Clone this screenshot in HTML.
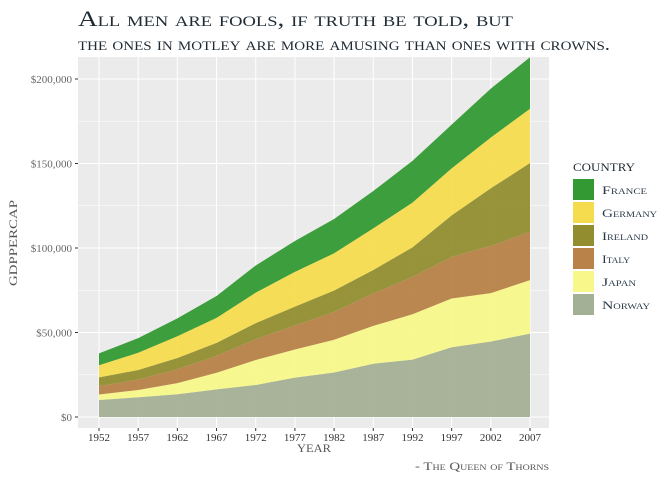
<!DOCTYPE html>
<html><head><meta charset="utf-8"><style>
body{margin:0;background:#fff;}
svg text{font-family:"Liberation Serif",serif;font-variant:small-caps;}
</style></head><body>
<svg id="chart" width="672" height="480" xmlns="http://www.w3.org/2000/svg">
<text x="78" y="26" font-size="22" fill="#1f2a33" textLength="435" lengthAdjust="spacingAndGlyphs">All men are fools, if truth be told, but</text>
<text x="78" y="50" font-size="18" fill="#1f2a33" textLength="532" lengthAdjust="spacingAndGlyphs">the ones in motley are more amusing than ones with crowns.</text>
<rect x="78" y="57" width="471" height="371" fill="#ebebeb"/>
<g id="grid"></g><g id="areas"></g><g id="axes"></g><g id="legend"></g>
<text x="17" y="243" font-size="12" fill="#555" transform="rotate(-90 17 243)" text-anchor="middle" textLength="86" lengthAdjust="spacingAndGlyphs">GDPPERCAP</text>
<text x="314" y="452" font-size="12" fill="#555" text-anchor="middle" textLength="34" lengthAdjust="spacingAndGlyphs">YEAR</text>
<text x="549" y="470" font-size="12" fill="#555" text-anchor="end" textLength="134" lengthAdjust="spacingAndGlyphs">- The Queen of Thorns</text>
</svg>
<script>
const years=[1952,1957,1962,1967,1972,1977,1982,1987,1992,1997,2002,2007];
const countries=["Norway","Japan","Italy","Ireland","Germany","France"];
const norway=[10095,11654,13450,16362,18965,23311,26299,31541,33966,41283,44684,49357];
const japan=[3217,4318,6577,9848,14779,16610,19384,22376,26825,28817,28605,31656];
const italy=[4931,6249,8244,10022,12269,14256,16538,19207,22014,24675,27968,28570];
const ireland=[5210,5599,6631,7656,9531,11151,12618,13873,17559,24522,34077,40676];
const germany=[7144,10188,12903,14746,18016,20513,22032,24639,26505,27789,30036,32170];
const france=[7030,8663,10560,13000,16107,18293,20294,22066,24704,25890,28926,30470];
const series=[norway,japan,italy,ireland,germany,france];
const colors=["#a4b096","#f8f88a","#b88248","#928e30","#f5dc4f","#339a33"];
const yTicks=[0,50000,100000,150000,200000];
const yTickLabels=["$0","$50,000","$100,000","$150,000","$200,000"];
const NS="http://www.w3.org/2000/svg";
const X=v=>99+(v-1952)*(530-99)/55;
const Y=v=>417-v*(417-79)/200000;
function mk(t,a,p){const e=document.createElementNS(NS,t);for(const k in a)e.setAttribute(k,a[k]);p.appendChild(e);return e;}
const grid=document.getElementById('grid'),areas=document.getElementById('areas'),axes=document.getElementById('axes'),leg=document.getElementById('legend');
yTicks.forEach((t,i)=>{
 if(i<yTicks.length-1){const l=mk('line',{x1:78,x2:549,y1:Y(t+25000),y2:Y(t+25000),stroke:'#fff','stroke-width':0.5},grid);
 }
 const g=mk('line',{x1:78,x2:549,y1:Y(t),y2:Y(t),stroke:'#fff','stroke-width':1},grid);
 
 const tx=mk('text',{x:72,y:Y(t)+4,'font-size':11,fill:'#666','text-anchor':'end'},axes);tx.textContent=yTickLabels[i];
 
 mk('line',{x1:75,x2:78,y1:Y(t),y2:Y(t),stroke:'#333'},axes);
});
years.forEach(y=>{
 const g=mk('line',{x1:X(y),x2:X(y),y1:57,y2:428,stroke:'#fff','stroke-width':1},grid);
 
 const tx=mk('text',{x:X(y),y:441,'font-size':11,fill:'#333','text-anchor':'middle'},axes);tx.textContent=y;
 
 mk('line',{x1:X(y),x2:X(y),y1:428,y2:431,stroke:'#333'},axes);
});
let base=years.map(()=>0);
series.forEach((s,i)=>{
 const top=base.map((b,j)=>b+s[j]);
 let d='M'+years.map((y,j)=>X(y)+','+Y(top[j])).join('L');
 d+='L'+years.map((y,j)=>[X(y),Y(base[j])]).reverse().map(p=>p.join(',')).join('L')+'Z';
 const p=mk('path',{d:d,fill:colors[i],'fill-opacity':0.95},areas);
 
 
 base=top;
});
const lt=mk('text',{x:573,y:171,'font-size':12,fill:'#1f2a33',textLength:62,lengthAdjust:'spacingAndGlyphs'},leg);lt.textContent='COUNTRY';

const order=[5,4,3,2,1,0];
const labelLens=[45,55,46,28,34,48];
order.forEach((ci,k)=>{
 const y0=179+k*23;
 const r=mk('rect',{x:573,y:y0,width:21,height:21,fill:colors[ci]},leg);
 
 const t=mk('text',{x:602,y:y0+15,'font-size':12,fill:'#2b3a4a',textLength:labelLens[k],lengthAdjust:'spacingAndGlyphs'},leg);t.textContent=countries[ci];
 
});
</script>
</body></html>
